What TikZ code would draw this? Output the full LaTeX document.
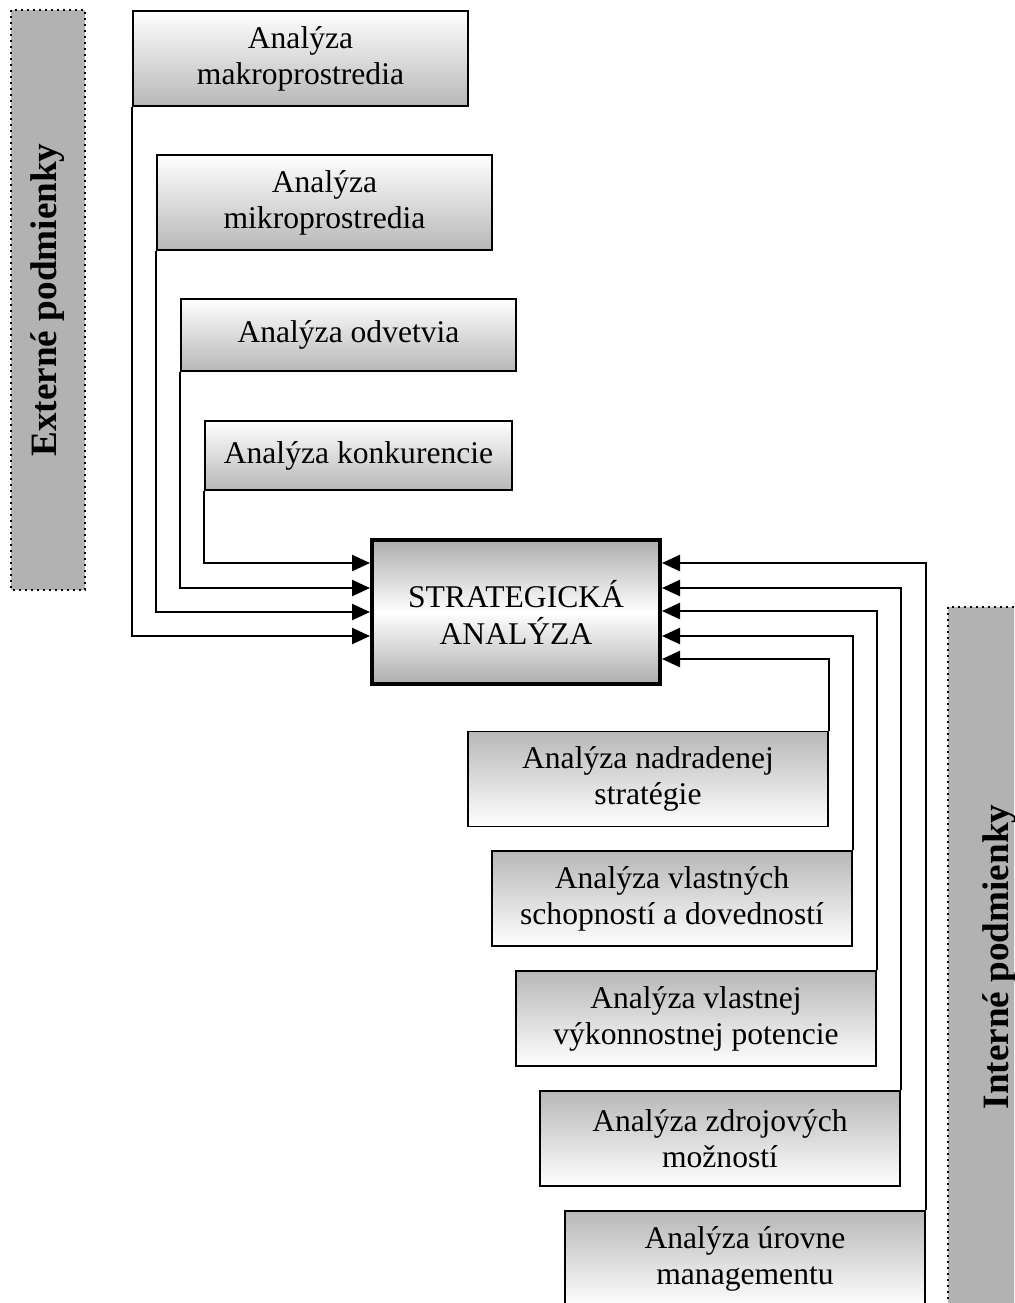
\documentclass[tikz,border=0pt]{standalone}
\usepackage{fontspec}
\setmainfont{Liberation Serif}
\usetikzlibrary{arrows.meta}

\tikzset{
  vonku/.style={draw, line width=0.8pt, top color=white, bottom color=black!28,
    align=center, inner sep=1pt, font=\fontsize{15.8}{18}\selectfont},
  vnutri/.style={draw, line width=0.8pt, top color=black!28, bottom color=white,
    align=center, inner sep=1pt, font=\fontsize{15.8}{18}\selectfont},
  jadro/.style={draw, line width=2pt, top color=black!32, bottom color=black!32, middle color=white,
    align=center, font=\fontsize{15.8}{18.5}\selectfont},
  pas/.style={draw, dotted, line width=1pt, fill=black!30, rotate=90,
    font=\fontsize{18.6}{20}\selectfont\bfseries},
  spoj/.style={line width=1.2pt, -{Triangle[length=9pt,width=8pt]}}
}

\begin{document}
\begin{tikzpicture}[x=0.5pt, y=-0.5pt]
  \useasboundingbox (0,0) rectangle (1014,1303);
  \clip (0,0) rectangle (1014,1303);

  % side bars
  \node[pas, minimum width=290pt, minimum height=37pt] (ext) at (48,300) {Externé podmienky};
  \node[pas, minimum width=350pt, minimum height=52pt] (int) at (1000,957) {Interné podmienky};

  % external analyses
  \node[vonku, minimum width=167.5pt, minimum height=47.5pt] (makro) at (300.5,58.5) {Analýza\\makroprostredia};
  \node[vonku, minimum width=167.5pt, minimum height=47.5pt] (mikro) at (324.5,202.5) {Analýza\\mikroprostredia};
  \node[vonku, minimum width=167.5pt, minimum height=36pt] (odvetvie) at (348.5,335) {Analýza odvetvia};
  \node[vonku, minimum width=153.5pt, minimum height=34.5pt] (konkurencia) at (358.5,455.5) {Analýza konkurencie};

  % centre
  \node[jadro, minimum width=144pt, minimum height=72pt] (sa) at (516,612) {STRATEGICKÁ\\ANALÝZA};

  % internal analyses
  \node[vnutri, minimum width=180pt, minimum height=47.5pt] (nadradena) at (648,779) {Analýza nadradenej\\stratégie};
  \node[vnutri, minimum width=180pt, minimum height=47.5pt] (schopnosti) at (672,898.5) {Analýza vlastných\\schopností a dovedností};
  \node[vnutri, minimum width=180pt, minimum height=47.5pt] (potencia) at (696,1018.5) {Analýza vlastnej\\výkonnostnej potencie};
  \node[vnutri, minimum width=180pt, minimum height=47.5pt] (zdroje) at (720,1138.5) {Analýza zdrojových\\možností};
  \node[vnutri, minimum width=180pt, minimum height=48pt] (management) at (745,1259) {Analýza úrovne\\managementu};

  % connectors, left side
  \foreach \n/\yy in {makro/636, mikro/612, odvetvie/588, konkurencia/563}
    \draw[spoj] (\n.south west) |- (sa.west |- 0,\yy);
  % connectors, right side
  \foreach \n/\yy in {nadradena/659, schopnosti/636, potencia/611, zdroje/588, management/563}
    \draw[spoj] (\n.north east) |- (sa.east |- 0,\yy);
\end{tikzpicture}
\end{document}
